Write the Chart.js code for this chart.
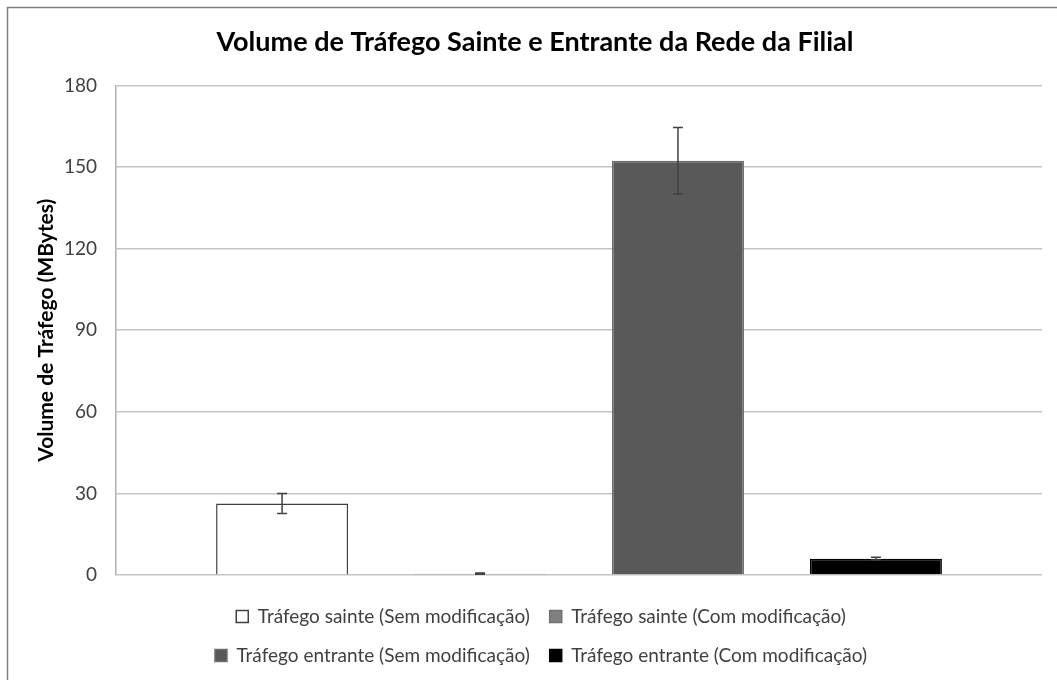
<!DOCTYPE html>
<html>
<head>
<meta charset="utf-8">
<script src="https://cdn.jsdelivr.net/npm/chart.js@4.4.1/dist/chart.umd.min.js"></script>
<style>
  body { margin: 0; background: #fff; }
  #wrap { width: 1057px; height: 680px; }
</style>
</head>
<body>
<div id="wrap"><canvas id="chart" width="1057" height="680"></canvas></div>
<script>
// valores
const categorias = [''];
const series = [
  'Tráfego sainte (Sem modificação)',
  'Tráfego sainte (Com modificação)',
  'Tráfego entrante (Sem modificação)',
  'Tráfego entrante (Com modificação)'
];
const volumes = [26.3, 0.5, 152.3, 6.0];
const erros = [3.7, 0.2, 12.2, 0.5];
const yTicks = [0, 30, 60, 90, 120, 150, 180];

const cores = ['#ffffff', '#808080', '#595959', '#000000'];
const bordas = ['#404040', '#707070', '#6e6e6e', '#000000'];

const LEGEND_SHIFT = -38; // legenda centrada no canvas e nao na area do grafico
const TITLE_SHIFT = 14;

// barras de erro
const errorBars = {
  id: 'errorBars',
  afterDatasetsDraw(chart) {
    const ctx = chart.ctx;
    const y = chart.scales.y;
    ctx.save();
    ctx.strokeStyle = '#404040';
    ctx.lineWidth = 1.5;
    chart.data.datasets.forEach((ds, i) => {
      const meta = chart.getDatasetMeta(i);
      meta.data.forEach((bar, j) => {
        const v = ds.data[j], e = ds.erro[j];
        const yt = y.getPixelForValue(v + e);
        const yb = y.getPixelForValue(v - e);
        ctx.beginPath();
        ctx.moveTo(bar.x, yt); ctx.lineTo(bar.x, yb);
        ctx.moveTo(bar.x - 5, yt); ctx.lineTo(bar.x + 5, yt);
        ctx.moveTo(bar.x - 5, yb); ctx.lineTo(bar.x + 5, yb);
        ctx.stroke();
      });
    });
    ctx.restore();
  }
};

const moldura = {
  id: 'moldura',
  beforeDraw(chart) {
    const ctx = chart.ctx;
    ctx.save();
    ctx.strokeStyle = '#808080';
    ctx.lineWidth = 1.5;
    ctx.beginPath();
    ctx.moveTo(7.5, 700); ctx.lineTo(7.5, 7.5); ctx.lineTo(1100, 7.5);
    ctx.stroke();
    ctx.restore();
  },
  afterLayout(chart) {
    chart.legend.left += LEGEND_SHIFT;
    chart.legend.right += LEGEND_SHIFT;
    chart.titleBlock.left += TITLE_SHIFT;
    chart.titleBlock.right += TITLE_SHIFT;
  }
};

const config = {
  type: 'bar',
  data: {
    labels: categorias,
    datasets: series.map((nome, i) => ({
      label: nome,
      data: [volumes[i]],
      erro: [erros[i]],
      backgroundColor: cores[i],
      borderColor: bordas[i],
      borderWidth: 1.5,
      categoryPercentage: 0.855,
      barPercentage: 0.667
    }))
  },
  options: {
    responsive: false,
    animation: false,
    layout: {
      padding: { top: 0, right: 15, bottom: 5, left: 0 }
    },
    scales: {
      x: {
        grid: { display: false },
        border: { display: false },
        ticks: { display: false },
        afterFit(scale) { scale.height = 12; }
      },
      y: {
        min: 0,
        max: 180,
        afterBuildTicks(scale) { scale.ticks = yTicks.map(v => ({ value: v })); },
        grid: { color: '#c4c4c4', lineWidth: 1.5, drawTicks: false },
        border: { color: '#b0b0b0', width: 1.5 },
        ticks: {
          padding: 19,
          color: '#404040',
          font: { family: 'Lato', size: 19 }
        },
        title: {
          display: true,
          text: 'Volume de Tráfego (MBytes)',
          color: '#000',
          font: { family: 'Lato', size: 21, weight: 'bold' },
          padding: { top: 34, bottom: 0 }
        },
        afterFit(scale) { scale.width = 116; }
      }
    },
    plugins: {
      title: {
        display: true,
        text: 'Volume de Tráfego Sainte e Entrante da Rede da Filial',
        color: '#000',
        font: { family: 'Lato', size: 27, weight: 'bold' },
        padding: { top: 26, bottom: 27 }
      },
      legend: {
        position: 'bottom',
        fullSize: false,
        labels: {
          color: '#404040',
          font: { family: 'Lato', size: 19 },
          boxWidth: 12,
          boxHeight: 12,
          padding: 20
        }
      },
      tooltip: { enabled: false }
    }
  },
  plugins: [errorBars, moldura]
};

new Chart(document.getElementById('chart'), config);
</script>
</body>
</html>
